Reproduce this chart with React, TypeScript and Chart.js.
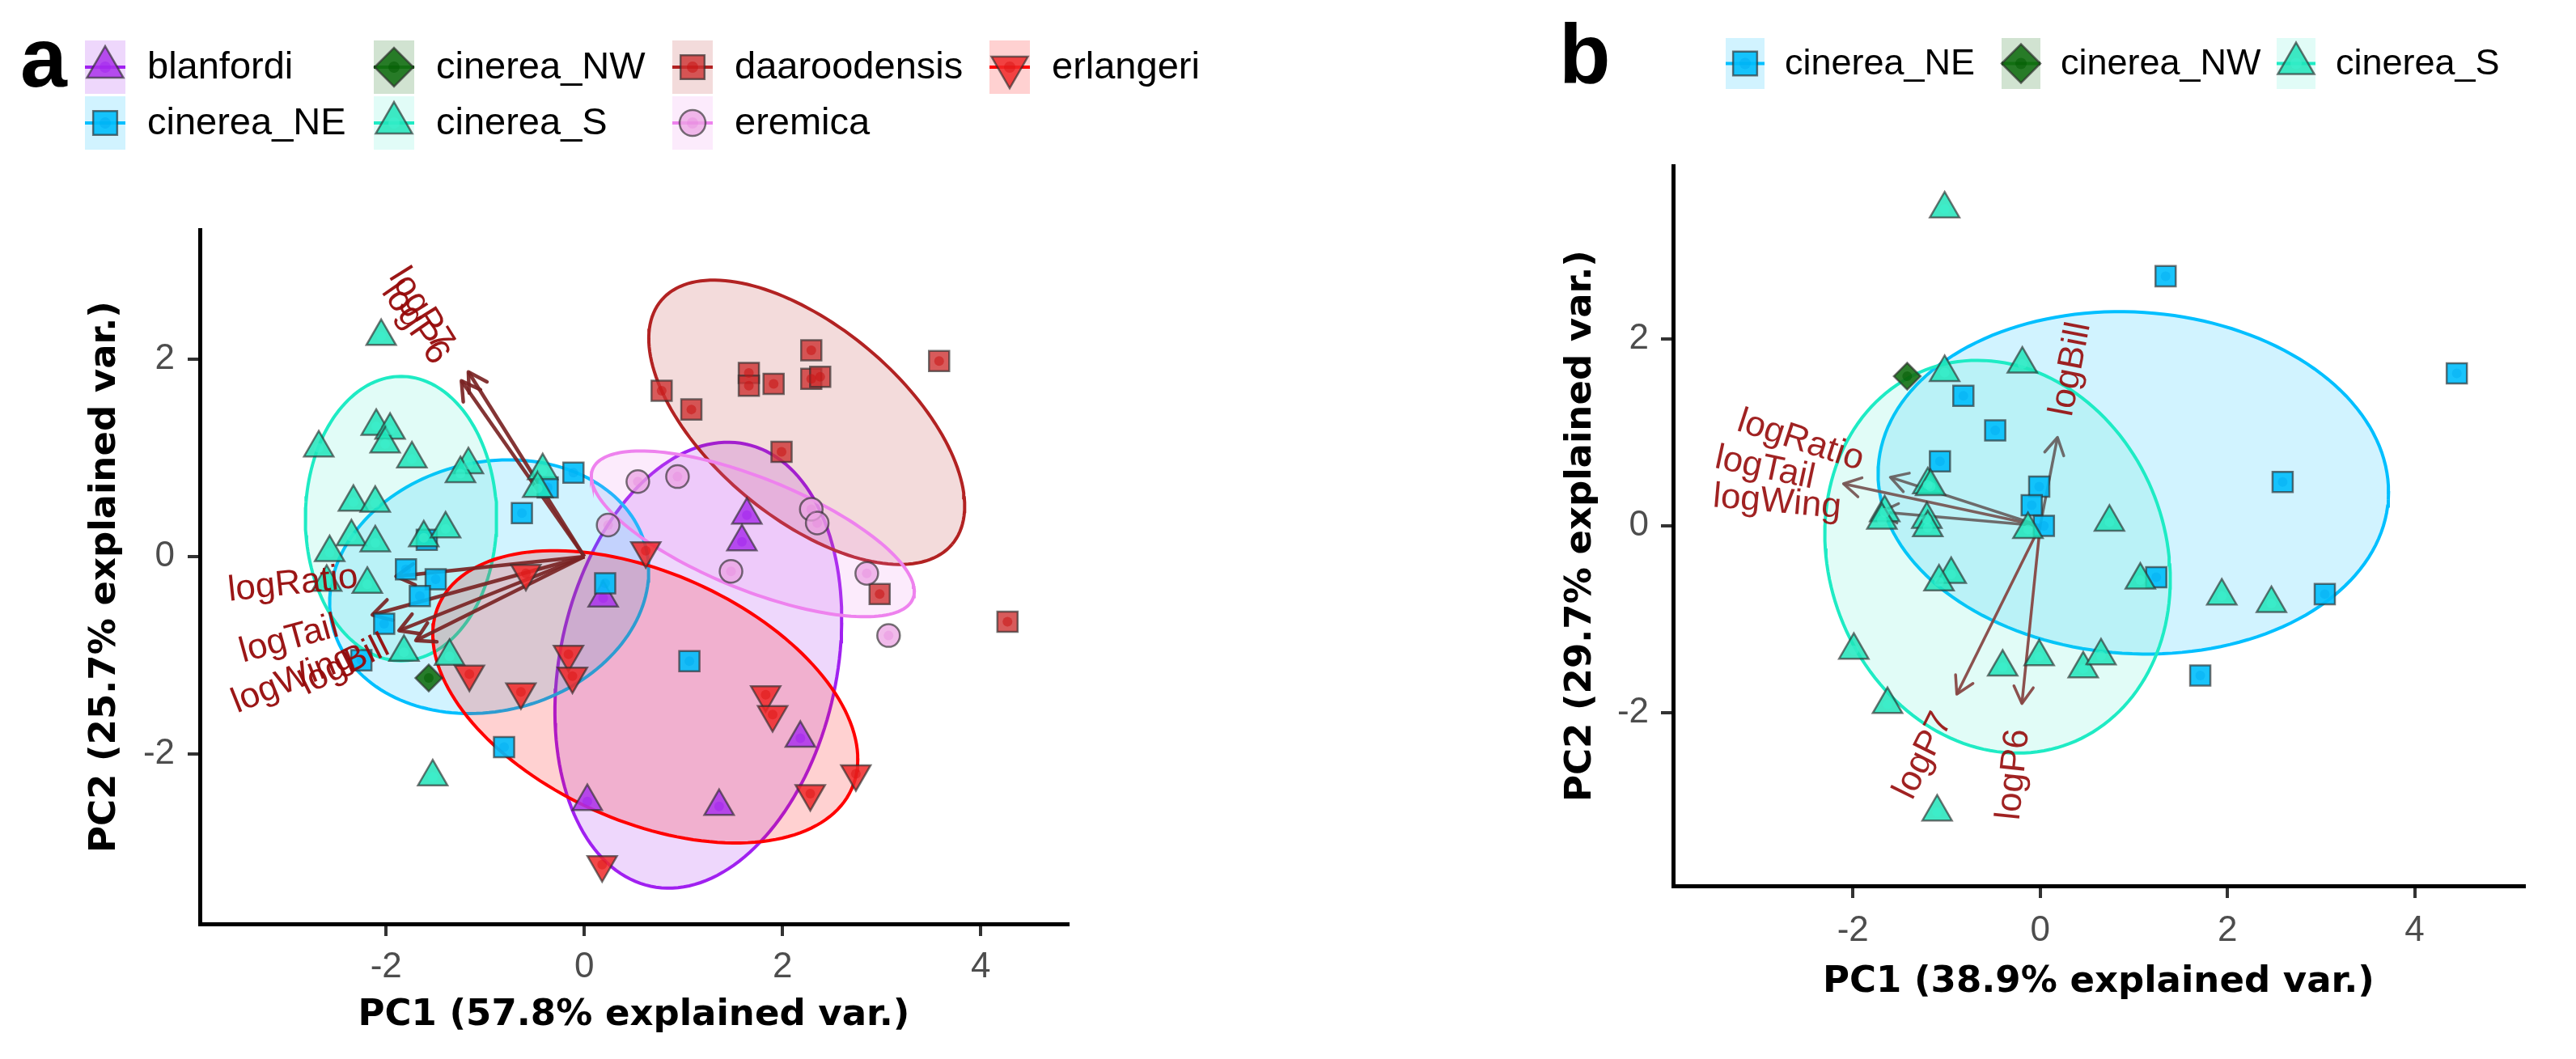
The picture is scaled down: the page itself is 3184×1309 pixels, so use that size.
import React, { useEffect, useRef } from 'react';
import { Chart, registerables } from 'chart.js';
import { drawPoint } from 'chart.js/helpers';

Chart.register(...registerables);

type Pt = [number, number];

// ======================= Panel a data (PC1 / PC2 scores) =======================
const a_blanfordi: Pt[] = [[1.64, 0.42], [1.59, 0.15], [0.19, -0.42], [2.18, -1.84], [0.03, -2.48], [1.36, -2.53]];
const a_cinerea_NE: Pt[] = [[-0.11, 0.85], [-0.37, 0.70], [-0.63, 0.44], [-1.59, 0.17], [-1.80, -0.13], [-1.50, -0.23], [-1.66, -0.40], [-2.02, -0.68], [-2.25, -1.05], [0.21, -0.27], [1.06, -1.06], [-0.81, -1.93]];
const a_cinerea_NW: Pt[] = [[-1.57, -1.23]];
const a_cinerea_S: Pt[] = [[-2.05, 2.23], [-2.68, 1.10], [-2.10, 1.32], [-1.96, 1.28], [-2.01, 1.14], [-1.74, 0.99], [-1.17, 0.93], [-1.25, 0.84], [-0.42, 0.87], [-0.47, 0.69], [-2.33, 0.55], [-2.11, 0.54], [-2.35, 0.20], [-2.11, 0.14], [-2.57, 0.04], [-1.62, 0.19], [-1.40, 0.28], [-2.60, -0.26], [-2.19, -0.28], [-1.82, -0.97], [-1.36, -1.01], [-1.53, -2.23]];
const a_daaroodensis: Pt[] = [[2.29, 2.09], [1.66, 1.86], [1.66, 1.73], [1.91, 1.75], [2.29, 1.80], [2.38, 1.82], [3.58, 1.98], [0.78, 1.68], [1.08, 1.49], [1.99, 1.06], [2.98, -0.38], [4.27, -0.66]];
const a_eremica: Pt[] = [[0.54, 0.76], [0.94, 0.81], [0.24, 0.32], [2.29, 0.48], [2.35, 0.34], [1.48, -0.15], [2.85, -0.17], [3.07, -0.80]];
const a_erlangeri: Pt[] = [[0.62, 0.06], [-0.59, -0.17], [-0.16, -0.99], [-0.12, -1.21], [-1.16, -1.19], [-0.64, -1.37], [1.83, -1.40], [1.90, -1.60], [2.74, -2.20], [2.28, -2.40], [0.18, -3.12]];

// ellipses: [centre x, centre y, semi-major, semi-minor, angle deg]
const ellA_blanfordi = [1.15, -1.10, 2.29, 1.396, 77.9];
const ellA_cinerea_NE = [-0.96, -0.305, 1.63, 1.259, 14.3];
const ellA_cinerea_S = [-1.85, 0.385, 1.44, 0.965, 90];
const ellA_daaroodensis = [2.244, 1.36, 1.918, 0.967, -40.1];
const ellA_eremica = [1.70, 0.23, 1.744, 0.565, -22.1];
const ellA_erlangeri = [0.615, -1.42, 2.282, 1.258, -24.2];

const arrowsA_names = ['logP7', 'logP6', 'logRatio', 'logTail', 'logWing', 'logBill'];
const arrowsA_x = [-1.17, -1.24, -1.90, -2.14, -1.87, -1.70];
const arrowsA_y = [1.87, 1.78, -0.20, -0.59, -0.75, -0.85];
const labelsA_x = [-1.65, -1.71, -2.94, -2.98, -2.94, -2.42];
const labelsA_y = [2.50, 2.36, -0.28, -0.84, -1.25, -1.10];

const ticksA_x = [-2, 0, 2, 4];
const ticksA_y = [-2, 0, 2];
const rangeA_x = [-3.88, 4.88];
const rangeA_y = [-3.72, 3.31];

// ======================= Panel b data =======================
const b_cinerea_NE: Pt[] = [[-0.82, 1.39], [-0.48, 1.02], [-1.07, 0.69], [-0.01, 0.42], [-0.09, 0.22], [0.04, 0.00], [1.34, 2.67], [4.45, 1.63], [2.59, 0.47], [3.04, -0.73], [1.24, -0.55], [1.71, -1.60]];
const b_cinerea_NW: Pt[] = [[-1.42, 1.60]];
const b_cinerea_S: Pt[] = [[-1.02, 3.39], [-1.02, 1.64], [-0.19, 1.73], [-1.20, 0.44], [-1.17, 0.42], [-1.66, 0.14], [-1.69, 0.06], [-1.21, 0.07], [-1.20, -0.02], [-0.13, -0.04], [-0.95, -0.52], [-1.08, -0.60], [-1.99, -1.33], [-1.63, -1.91], [-0.40, -1.51], [-0.01, -1.40], [0.46, -1.53], [0.65, -1.39], [0.74, 0.04], [1.07, -0.58], [1.94, -0.75], [2.47, -0.83], [-1.10, -3.06]];

const ellB_cinerea_NE = [0.995, 0.46, 2.729, 1.826, -3.7];
const ellB_cinerea_S = [-0.455, -0.33, 2.141, 1.797, -69];

const arrowsB_names = ['logBill', 'logP7', 'logP6', 'logRatio', 'logTail', 'logWing'];
const arrowsB_x = [0.185, -0.89, -0.195, -1.60, -2.10, -1.70];
const arrowsB_y = [0.946, -1.80, -1.90, 0.52, 0.45, 0.15];
const labelsB_x = [0.33, -1.245, -0.28, -2.56, -2.94, -2.81];
const labelsB_y = [1.675, -2.46, -2.66, 0.91, 0.615, 0.25];

const ticksB_x = [-2, 0, 2, 4];
const ticksB_y = [-2, 0, 2];
const rangeB_x = [-3.92, 5.17];
const rangeB_y = [-3.85, 3.85];

// ======================= styles =======================
const SANS = '"Liberation Sans", Arial, Helvetica, sans-serif';
const TITLE_FONT = '"DejaVu Sans", "Liberation Sans", sans-serif';

type GStyle = { line: string; ell: string; fill: string; dot: string; shape: string; rot: number; r: number; lr: number };
const STYLE: Record<string, GStyle> = {
  blanfordi: { line: '#A020F0', ell: 'rgba(160,32,240,0.18)', fill: 'rgba(172,52,236,0.85)', dot: 'rgba(160,32,240,0.45)', shape: 'triangle', rot: 0, r: 21, lr: 26 },
  cinerea_NE: { line: '#00BFFF', ell: 'rgba(0,191,255,0.18)', fill: 'rgba(0,190,252,0.9)', dot: 'rgba(0,170,240,0.45)', shape: 'rect', rot: 0, r: 17.7, lr: 21 },
  cinerea_NW: { line: '#006400', ell: 'rgba(0,100,0,0.18)', fill: 'rgba(20,112,20,0.9)', dot: 'rgba(0,90,0,0.5)', shape: 'rectRot', rot: 0, r: 16.5, lr: 24 },
  cinerea_S: { line: '#1EEBC4', ell: 'rgba(40,235,195,0.14)', fill: 'rgba(32,228,186,0.85)', dot: 'rgba(60,240,205,0.6)', shape: 'triangle', rot: 0, r: 21, lr: 26 },
  daaroodensis: { line: '#B22222', ell: 'rgba(178,34,34,0.16)', fill: 'rgba(206,50,50,0.8)', dot: 'rgba(200,20,20,0.55)', shape: 'rect', rot: 0, r: 17.7, lr: 21 },
  eremica: { line: '#EE82EE', ell: 'rgba(238,130,238,0.16)', fill: 'rgba(236,164,228,0.75)', dot: 'rgba(230,130,220,0.35)', shape: 'circle', rot: 0, r: 14, lr: 16 },
  erlangeri: { line: '#FF0000', ell: 'rgba(255,0,0,0.18)', fill: 'rgba(240,40,40,0.85)', dot: 'rgba(220,20,20,0.5)', shape: 'triangle', rot: 180, r: 21, lr: 26 },
};
const POINT_BORDER = 'rgba(45,45,45,0.65)';

function ellipsePath(e: number[]) {
  const [cx, cy, a, b, deg] = e;
  const t = (deg * Math.PI) / 180;
  const pts: { x: number; y: number }[] = [];
  const n = 160;
  for (let i = 0; i <= n; i++) {
    const u = (i / n) * 2 * Math.PI;
    const ex = a * Math.cos(u);
    const ey = b * Math.sin(u);
    pts.push({ x: cx + ex * Math.cos(t) - ey * Math.sin(t), y: cy + ex * Math.sin(t) + ey * Math.cos(t) });
  }
  return pts;
}

function ellipseDatasets(list: [string, number[]][]) {
  return list.map(([g, e], i) => ({
    type: 'line',
    label: 'ellipse ' + g,
    data: ellipsePath(e),
    borderColor: STYLE[g].line,
    borderWidth: 4,
    backgroundColor: STYLE[g].ell,
    fill: 'shape',
    pointRadius: 0,
    tension: 0,
    order: 500 - i,
  }));
}

function arrowDatasets(xs: number[], ys: number[], colors: string[], width: number, head: number) {
  return xs.map((x, i) => ({
    type: 'line',
    label: 'arrow ' + i,
    data: [{ x: 0, y: 0 }, { x, y: ys[i] }],
    borderColor: colors[i],
    borderWidth: width,
    pointRadius: 0,
    fill: false,
    order: 300,
    arrowHead: head,
  }));
}

function pointDatasets(list: [string, Pt[]][]) {
  const out: any[] = [];
  list.forEach(([g, pts], i) => {
    const s = STYLE[g];
    const data = pts.map(([x, y]) => ({ x, y }));
    out.push({
      type: 'scatter',
      label: g,
      data,
      pointStyle: s.shape,
      pointRotation: s.rot,
      pointRadius: s.r,
      pointBackgroundColor: s.fill,
      pointBorderColor: POINT_BORDER,
      pointBorderWidth: 2.5,
      showLine: false,
      order: 200 - 2 * i,
    });
    out.push({
      type: 'scatter',
      label: g + ' centre',
      data,
      pointStyle: 'circle',
      pointRadius: 6,
      pointBackgroundColor: s.dot,
      pointBorderWidth: 0,
      showLine: false,
      order: 199 - 2 * i,
    });
  });
  return out;
}

const arrowHeadPlugin = {
  id: 'arrowHeads',
  afterDatasetDraw(chart: any, args: any) {
    const ds = chart.data.datasets[args.index];
    if (!ds.arrowHead) return;
    const pts = args.meta.data;
    if (!pts || pts.length < 2) return;
    const p0 = pts[0];
    const p1 = pts[1];
    const ang = Math.atan2(p1.y - p0.y, p1.x - p0.x);
    const L = ds.arrowHead;
    const ctx = chart.ctx;
    ctx.save();
    ctx.strokeStyle = ds.borderColor;
    ctx.lineWidth = ds.borderWidth;
    ctx.lineCap = 'round';
    ctx.lineJoin = 'round';
    ctx.beginPath();
    ctx.moveTo(p1.x - L * Math.cos(ang - Math.PI / 6), p1.y - L * Math.sin(ang - Math.PI / 6));
    ctx.lineTo(p1.x, p1.y);
    ctx.lineTo(p1.x - L * Math.cos(ang + Math.PI / 6), p1.y - L * Math.sin(ang + Math.PI / 6));
    ctx.stroke();
    ctx.restore();
  },
};

function labelPlugin(names: string[], lx: number[], ly: number[], ax: number[], ay: number[], color: string, size: number) {
  return {
    id: 'varLabels',
    afterDatasetsDraw(chart: any) {
      const { ctx } = chart;
      const xs = chart.scales.x;
      const ys = chart.scales.y;
      ctx.save();
      ctx.fillStyle = color;
      ctx.font = `${size}px ${SANS}`;
      ctx.textAlign = 'center';
      ctx.textBaseline = 'middle';
      names.forEach((n, i) => {
        const px = xs.getPixelForValue(lx[i]);
        const py = ys.getPixelForValue(ly[i]);
        const ang = Math.atan(ay[i] / ax[i]);
        ctx.save();
        ctx.translate(px, py);
        ctx.rotate(-ang);
        ctx.fillText(n, 0, 0);
        ctx.restore();
      });
      ctx.restore();
    },
  };
}

type LegendItem = { g: string; x: number; y: number };
function legendPlugin(items: LegendItem[], kw: number, kh: number, textGap: number, fontSize: number, letter: string, lx: number, ly: number) {
  return {
    id: 'panelLegend',
    afterDraw(chart: any) {
      const { ctx } = chart;
      ctx.save();
      ctx.fillStyle = '#000';
      ctx.font = `bold 104px ${SANS}`;
      ctx.textAlign = 'left';
      ctx.textBaseline = 'alphabetic';
      ctx.fillText(letter, lx, ly);
      items.forEach((it) => {
        const s = STYLE[it.g];
        ctx.fillStyle = s.ell;
        ctx.fillRect(it.x, it.y, kw, kh);
        const cy = it.y + kh / 2;
        ctx.strokeStyle = s.line;
        ctx.lineWidth = 4;
        ctx.beginPath();
        ctx.moveTo(it.x, cy);
        ctx.lineTo(it.x + kw, cy);
        ctx.stroke();
        ctx.fillStyle = s.fill;
        ctx.strokeStyle = POINT_BORDER;
        ctx.lineWidth = 2.5;
        drawPoint(ctx, { pointStyle: s.shape as any, rotation: s.rot, radius: s.lr, borderWidth: 2.5 }, it.x + kw / 2, cy);
        ctx.fillStyle = s.dot;
        drawPoint(ctx, { pointStyle: 'circle', rotation: 0, radius: 7, borderWidth: 0 }, it.x + kw / 2, cy);
        ctx.fillStyle = '#000';
        ctx.font = `${fontSize}px ${SANS}`;
        ctx.textAlign = 'left';
        ctx.textBaseline = 'middle';
        ctx.fillText(it.g, it.x + kw + textGap, cy + 1);
      });
      ctx.restore();
    },
  };
}

function axisScale(range: number[], ticks: number[], title: string, isX: boolean, fixed: number, tickPad: number, titlePad: any) {
  return {
    type: 'linear',
    position: isX ? 'bottom' : 'left',
    min: range[0],
    max: range[1],
    afterBuildTicks: (ax: any) => {
      ax.ticks = ticks.map((v) => ({ value: v }));
    },
    afterFit: (s: any) => {
      if (isX) s.height = fixed;
      else s.width = fixed;
    },
    grid: { display: true, drawOnChartArea: false, drawTicks: true, tickLength: 15, lineWidth: 4, color: '#333333' },
    border: { display: true, color: '#000000', width: 5 },
    ticks: {
      color: '#4D4D4D',
      font: { family: SANS, size: 44 },
      padding: tickPad,
      autoSkip: false,
      maxRotation: 0,
      minRotation: 0,
      callback: (v: any) => String(v),
    },
    title: {
      display: true,
      text: title,
      color: '#000000',
      font: { family: TITLE_FONT, size: 45, weight: 'bold' },
      padding: titlePad,
    },
  };
}

const W = 1592;
const H = 1309;

function configA(): any {
  const datasets = [
    ...pointDatasets([
      ['blanfordi', a_blanfordi],
      ['cinerea_NE', a_cinerea_NE],
      ['cinerea_NW', a_cinerea_NW],
      ['cinerea_S', a_cinerea_S],
      ['daaroodensis', a_daaroodensis],
      ['eremica', a_eremica],
      ['erlangeri', a_erlangeri],
    ]),
    ...arrowDatasets(arrowsA_x, arrowsA_y, arrowsA_x.map(() => 'rgba(122,36,36,0.92)'), 4.5, 26),
    ...ellipseDatasets([
      ['blanfordi', ellA_blanfordi],
      ['cinerea_NE', ellA_cinerea_NE],
      ['cinerea_S', ellA_cinerea_S],
      ['daaroodensis', ellA_daaroodensis],
      ['eremica', ellA_eremica],
      ['erlangeri', ellA_erlangeri],
    ]),
  ];
  const legendItems: LegendItem[] = [
    { g: 'blanfordi', x: 105, y: 50 },
    { g: 'cinerea_NE', x: 105, y: 119 },
    { g: 'cinerea_NW', x: 462, y: 50 },
    { g: 'cinerea_S', x: 462, y: 119 },
    { g: 'daaroodensis', x: 831, y: 50 },
    { g: 'eremica', x: 831, y: 119 },
    { g: 'erlangeri', x: 1223, y: 50 },
  ];
  return {
    type: 'scatter',
    data: { datasets },
    options: {
      responsive: false,
      animation: false,
      devicePixelRatio: 1,
      events: [],
      layout: { padding: { left: 0, right: W - 1320, top: 284, bottom: 0 } },
      plugins: { legend: { display: false }, tooltip: { enabled: false }, filler: { drawTime: 'beforeDatasetDraw' } },
      scales: {
        x: axisScale(rangeA_x, ticksA_x, 'PC1 (57.8% explained var.)', true, H - 1142, 12, { top: 0, bottom: 27 }),
        y: axisScale(rangeA_y, ticksA_y, 'PC2 (25.7% explained var.)', false, 247, 16, { top: 103, bottom: 0 }),
      },
    },
    plugins: [
      arrowHeadPlugin,
      labelPlugin(arrowsA_names, labelsA_x, labelsA_y, arrowsA_x, arrowsA_y, 'rgba(150,10,10,0.95)', 44),
      legendPlugin(legendItems, 50, 66, 27, 47, 'a', 25, 107),
    ],
  };
}

function configB(): any {
  const arrowColors = ['rgba(105,100,100,0.95)', 'rgba(135,72,68,0.95)', 'rgba(135,72,68,0.95)', 'rgba(105,100,100,0.95)', 'rgba(120,88,86,0.95)', 'rgba(105,100,100,0.95)'];
  const datasets = [
    ...pointDatasets([
      ['cinerea_NE', b_cinerea_NE],
      ['cinerea_NW', b_cinerea_NW],
      ['cinerea_S', b_cinerea_S],
    ]),
    ...arrowDatasets(arrowsB_x, arrowsB_y, arrowColors, 3.5, 24),
    ...ellipseDatasets([
      ['cinerea_NE', ellB_cinerea_NE],
      ['cinerea_S', ellB_cinerea_S],
    ]),
  ];
  const legendItems: LegendItem[] = [
    { g: 'cinerea_NE', x: 541, y: 47 },
    { g: 'cinerea_NW', x: 882, y: 47 },
    { g: 'cinerea_S', x: 1222, y: 47 },
  ];
  return {
    type: 'scatter',
    data: { datasets },
    options: {
      responsive: false,
      animation: false,
      devicePixelRatio: 1,
      events: [],
      layout: { padding: { left: 0, right: W - 1528, top: 205, bottom: 0 } },
      plugins: { legend: { display: false }, tooltip: { enabled: false }, filler: { drawTime: 'beforeDatasetDraw' } },
      scales: {
        x: axisScale(rangeB_x, ticksB_x, 'PC1 (38.9% explained var.)', true, H - 1095, 14, { top: 0, bottom: 68 }),
        y: axisScale(rangeB_y, ticksB_y, 'PC2 (29.7% explained var.)', false, 476, 15, { top: 335, bottom: 0 }),
      },
    },
    plugins: [
      arrowHeadPlugin,
      labelPlugin(arrowsB_names, labelsB_x, labelsB_y, arrowsB_x, arrowsB_y, 'rgba(150,10,10,0.9)', 44),
      legendPlugin(legendItems, 48, 63, 25, 45, 'b', 335, 102),
    ],
  };
}

function Panel({ make, left }: { make: () => any; left: number }) {
  const ref = useRef<HTMLCanvasElement>(null);
  useEffect(() => {
    if (!ref.current) return;
    const chart = new Chart(ref.current, make());
    return () => chart.destroy();
  }, [make]);
  return (
    <canvas
      ref={ref}
      width={W}
      height={H}
      style={{ position: 'absolute', left, top: 0, width: W, height: H, display: 'block' }}
    />
  );
}

export default function App() {
  return (
    <div style={{ position: 'absolute', left: 0, top: 0, width: 3184, height: 1309, background: '#ffffff', overflow: 'hidden' }}>
      <Panel make={configA} left={0} />
      <Panel make={configB} left={W} />
    </div>
  );
}
